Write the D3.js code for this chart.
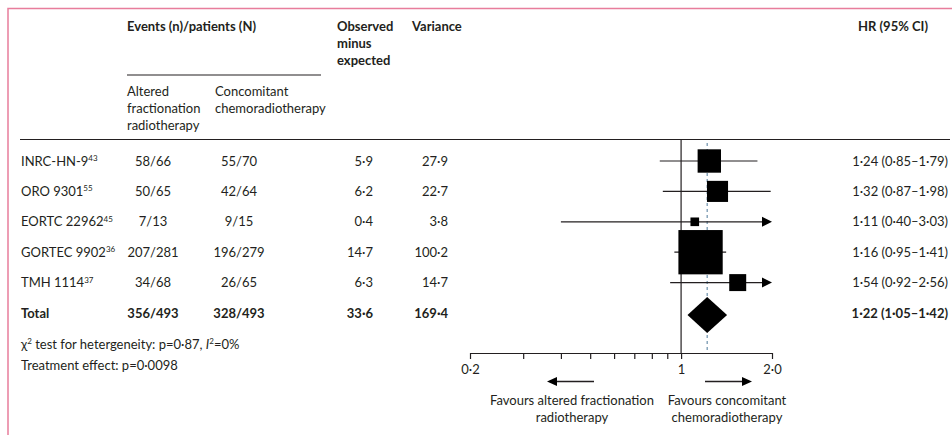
<!DOCTYPE html>
<html>
<head>
<meta charset="utf-8">
<script src="https://cdn.jsdelivr.net/npm/d3@7/dist/d3.min.js"></script>
<style>
  html, body { margin: 0; padding: 0; background: #fff; }
  svg { display: block; }
  text { font-family: Lato, "Open Sans", sans-serif; font-size: 13px; fill: #231f20; }
  .bold { font-weight: 700; }
</style>
</head>
<body>
<svg id="chart" width="952" height="435"></svg>
<script>
// Trials in the meta-analysis
const studies = ["INRC-HN-9", "ORO 9301", "EORTC 22962", "GORTEC 9902", "TMH 1114"];
const refs = ["43", "55", "45", "36", "37"];
const alteredEvents = ["58/66", "50/65", "7/13", "207/281", "34/68"];
const concomitantEvents = ["55/70", "42/64", "9/15", "196/279", "26/65"];
const obsMinusExp = ["5·9", "6·2", "0·4", "14·7", "6·3"];
const variance = [27.9, 22.7, 3.8, 100.2, 14.7];
const varianceLabels = ["27·9", "22·7", "3·8", "100·2", "14·7"];
const hr = [1.24, 1.32, 1.11, 1.16, 1.54];
const ciLow = [0.85, 0.87, 0.40, 0.95, 0.92];
const ciHigh = [1.79, 1.98, 3.03, 1.41, 2.56];

// Pooled estimate
const totalAltered = "356/493";
const totalConcomitant = "328/493";
const totalOE = "33·6";
const totalVarianceLabel = "169·4";
const totalHR = 1.22, totalLow = 1.05, totalHigh = 1.42;

// Axis
const tickValues = [0.2, 0.3, 0.4, 0.5, 0.6, 0.7, 0.8, 0.9, 1, 2];
const tickLabels = { 0.2: "0·2", 1: "1", 2: "2·0" };

const fmt = v => v.toFixed(2).replace(".", "·");
const hrLabel = (h, l, u) => `${fmt(h)} (${fmt(l)}–${fmt(u)})`;

const svg = d3.select("#chart");
const ink = "#231f20";

const x = d3.scaleLog().domain([0.2, 2]).range([470, 772]);
const rowNames = studies.concat(["Total"]);
const y = d3.scalePoint().domain(rowNames).range([161, 313]);
const side = d3.scaleSqrt().domain([0, 100.2]).range([0, 44.3]);

const axisY = 353;
const hrRight = 948;

// Frame
svg.append("path")
  .attr("d", "M8,435 V8.5 H952")
  .attr("fill", "none").attr("stroke", "#e87d9c").attr("stroke-width", 1.5);

// Column headers
const hdr = svg.append("g").attr("class", "headers");
hdr.append("text").attr("class", "bold").attr("x", 127).attr("y", 30.5).text("Events (n)/patients (N)");
hdr.append("line").attr("x1", 127).attr("x2", 321).attr("y1", 75).attr("y2", 75)
  .attr("stroke", ink).attr("stroke-width", 1.2);
["Observed", "minus", "expected"].forEach((t, i) =>
  hdr.append("text").attr("class", "bold").attr("x", 337).attr("y", 30.5 + i * 17).text(t));
hdr.append("text").attr("class", "bold").attr("x", 412).attr("y", 30.5).text("Variance");
hdr.append("text").attr("class", "bold").attr("x", 858).attr("y", 30.5).text("HR (95% CI)");
["Altered", "fractionation", "radiotherapy"].forEach((t, i) =>
  hdr.append("text").attr("x", 127).attr("y", 95.5 + i * 17.3).text(t));
["Concomitant", "chemoradiotherapy"].forEach((t, i) =>
  hdr.append("text").attr("x", 215).attr("y", 95.5 + i * 17.3).text(t));
hdr.append("line").attr("x1", 20).attr("x2", 950).attr("y1", 139.5).attr("y2", 139.5)
  .attr("stroke", ink).attr("stroke-width", 1.2);

// Reference line at HR = 1 and dashed line at the pooled HR
svg.append("line").attr("x1", x(1)).attr("x2", x(1)).attr("y1", 140).attr("y2", axisY)
  .attr("stroke", ink).attr("stroke-width", 1.2);
svg.append("line").attr("x1", x(totalHR)).attr("x2", x(totalHR)).attr("y1", 143).attr("y2", axisY)
  .attr("stroke", "#5f86a3").attr("stroke-width", 1.1).attr("stroke-dasharray", "3,3");

// Study rows
const rows = svg.append("g").attr("class", "rows");
studies.forEach((s, i) => {
  const cy = y(s);
  const lab = rows.append("text").attr("x", 21).attr("y", cy + 4.5);
  lab.append("tspan").text(s);
  lab.append("tspan").attr("dy", -4.5).attr("font-size", "8px").text(refs[i]);
  rows.append("text").attr("x", 153).attr("y", cy + 4.5).attr("text-anchor", "middle").text(alteredEvents[i]);
  rows.append("text").attr("x", 239).attr("y", cy + 4.5).attr("text-anchor", "middle").text(concomitantEvents[i]);
  rows.append("text").attr("x", 373).attr("y", cy + 4.5).attr("text-anchor", "end").text(obsMinusExp[i]);
  rows.append("text").attr("x", 448).attr("y", cy + 4.5).attr("text-anchor", "end").text(varianceLabels[i]);
  rows.append("text").attr("x", hrRight).attr("y", cy + 4.5).attr("text-anchor", "end")
    .text(hrLabel(hr[i], ciLow[i], ciHigh[i]));

  // Confidence interval, truncated with an arrow beyond the axis range
  const [lo, hi] = x.domain();
  const clippedHigh = ciHigh[i] > hi;
  const x1 = x(Math.max(ciLow[i], lo));
  const x2 = x(Math.min(ciHigh[i], hi));
  rows.append("line").attr("x1", x1).attr("x2", clippedHigh ? x2 - 8 : x2)
    .attr("y1", cy).attr("y2", cy).attr("stroke", ink).attr("stroke-width", 1.2);
  if (clippedHigh) {
    rows.append("path")
      .attr("d", `M${x2},${cy} L${x2 - 10},${cy - 5} L${x2 - 10},${cy + 5} Z`)
      .attr("fill", "#000");
  }
  const s2 = side(variance[i]);
  rows.append("rect")
    .attr("x", x(hr[i]) - s2 / 2).attr("y", cy - s2 / 2)
    .attr("width", s2).attr("height", s2).attr("fill", "#000");
});

// Total row
const ty = y("Total");
rows.append("text").attr("class", "bold").attr("x", 21).attr("y", ty + 4.5).text("Total");
rows.append("text").attr("class", "bold").attr("x", 153).attr("y", ty + 4.5).attr("text-anchor", "middle").text(totalAltered);
rows.append("text").attr("class", "bold").attr("x", 239).attr("y", ty + 4.5).attr("text-anchor", "middle").text(totalConcomitant);
rows.append("text").attr("class", "bold").attr("x", 373).attr("y", ty + 4.5).attr("text-anchor", "end").text(totalOE);
rows.append("text").attr("class", "bold").attr("x", 448).attr("y", ty + 4.5).attr("text-anchor", "end").text(totalVarianceLabel);
rows.append("text").attr("class", "bold").attr("x", hrRight).attr("y", ty + 4.5).attr("text-anchor", "end")
  .text(hrLabel(totalHR, totalLow, totalHigh));
const dy = ty + 2;
rows.append("path")
  .attr("d", `M${x(totalLow)},${dy} L${x(totalHR)},${dy - 18} L${x(totalHigh)},${dy} L${x(totalHR)},${dy + 18} Z`)
  .attr("fill", "#000");

// Footnotes
const f1 = svg.append("text").attr("x", 21).attr("y", 348.5);
f1.append("tspan").text("χ");
f1.append("tspan").attr("dy", -4.5).attr("font-size", "8px").text("2");
f1.append("tspan").attr("dy", 4.5).text(" test for hetergeneity: p=0·87, ");
f1.append("tspan").attr("font-style", "italic").text("I");
f1.append("tspan").attr("dy", -4.5).attr("font-size", "8px").text("2");
f1.append("tspan").attr("dy", 4.5).text("=0%");
svg.append("text").attr("x", 21).attr("y", 369.5).text("Treatment effect: p=0·0098");

// Axis
const axis = d3.axisBottom(x)
  .tickValues(tickValues)
  .tickSize(6)
  .tickSizeOuter(0)
  .tickFormat(d => tickLabels[d] || "");
const ag = svg.append("g").attr("transform", `translate(0,${axisY})`).call(axis);
ag.select(".domain").attr("stroke", ink).attr("stroke-width", 1.2);
ag.selectAll(".tick line").attr("stroke", ink).attr("stroke-width", 1.2);
ag.selectAll(".tick text")
  .attr("font-family", "Lato, sans-serif").attr("font-size", "13px")
  .attr("fill", ink).attr("dy", "0.95em");

// Direction labels
const arrowY = 381.5;
svg.append("line").attr("x1", 555).attr("x2", 594).attr("y1", arrowY).attr("y2", arrowY)
  .attr("stroke", ink).attr("stroke-width", 1.4);
svg.append("path").attr("d", `M547,${arrowY} L557,${arrowY - 4.5} L557,${arrowY + 4.5} Z`).attr("fill", "#000");
svg.append("line").attr("x1", 705).attr("x2", 745).attr("y1", arrowY).attr("y2", arrowY)
  .attr("stroke", ink).attr("stroke-width", 1.4);
svg.append("path").attr("d", `M752,${arrowY} L742,${arrowY - 4.5} L742,${arrowY + 4.5} Z`).attr("fill", "#000");
["Favours altered fractionation", "radiotherapy"].forEach((t, i) =>
  svg.append("text").attr("x", 572).attr("y", 404.5 + i * 17.5).attr("text-anchor", "middle").text(t));
["Favours concomitant", "chemoradiotherapy"].forEach((t, i) =>
  svg.append("text").attr("x", 727).attr("y", 404.5 + i * 17.5).attr("text-anchor", "middle").text(t));
</script>
</body>
</html>
